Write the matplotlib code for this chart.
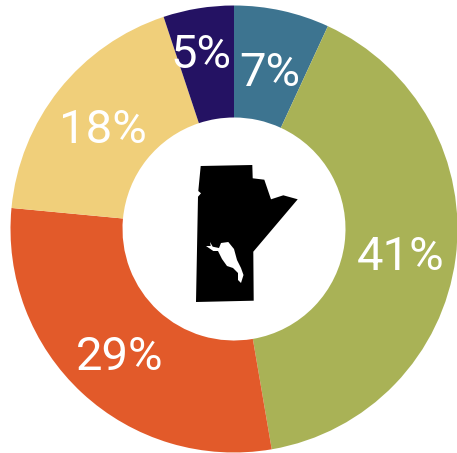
import matplotlib
matplotlib.use("Agg")
from matplotlib import pyplot as plt
from matplotlib.patches import Polygon

W, H = 457, 453

sizes = [6.9, 40.4, 29.2, 18.4, 5.1]
labels = ["7%", "41%", "29%", "18%", "5%"]
colors = ["#3d7490", "#a9b256", "#e25a2a", "#f0cf7a", "#241263"]
label_x = [270, 401, 120, 103, 201]
label_y = [73, 257, 357, 130, 55]

# Manitoba silhouette, in pixels of the picture
province_x = [200.7, 252.3, 252.7, 264.3, 271, 283.3, 297.7, 253.3, 253.7, 196, 198, 201, 198.3]
province_y = [166, 165, 178.3, 179.7, 199.3, 195.3, 199.3, 251.7, 300.7, 302, 196.7, 193.3, 191]
lake_x = [206, 210.7, 210, 212.7, 219, 221, 228.3, 234, 237, 241, 243.5, 241, 238, 238, 233, 227, 222, 218, 213.3]
lake_y = [246, 246, 242, 246.7, 248, 243, 242, 249, 260, 268, 275, 283, 280, 273, 268, 266, 259, 251, 251]

fig = plt.figure(figsize=(W / 100, H / 100), dpi=100)
ax = fig.add_axes([0, 0, 1, 1])

ax.pie(sizes, colors=colors, startangle=90, counterclock=False,
       center=(234, H - 229), radius=223.5, frame=True,
       wedgeprops={"width": 112, "linewidth": 0})

ax.add_patch(Polygon(list(zip(province_x, [H - y for y in province_y])), color="black", lw=0))
ax.add_patch(Polygon(list(zip(lake_x, [H - y for y in lake_y])), color="white", lw=0))

for x, y, s in zip(label_x, label_y, labels):
    ax.text(x, H - y, s, color="white", fontsize=34, family="Roboto",
            ha="center", va="center")

ax.set_xlim(0, W)
ax.set_ylim(0, H)
ax.axis("off")
fig.savefig("out.png", dpi=100)
